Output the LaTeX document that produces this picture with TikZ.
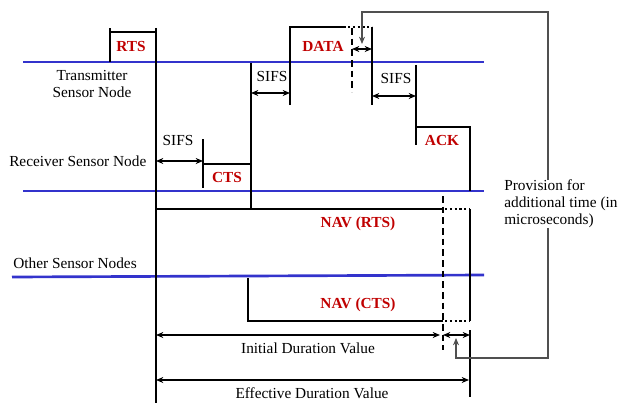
\documentclass[tikz,border=0pt]{standalone}
\usepackage{fontspec}
\setmainfont{Liberation Serif}
\usetikzlibrary{arrows.meta}
\definecolor{lineblue}{RGB}{51,51,204}
\definecolor{labred}{RGB}{192,0,0}
\definecolor{conngray}{RGB}{80,80,80}
\begin{document}
\begin{tikzpicture}[x=0.75pt,y=-0.75pt,
  sig/.style={line width=1.8pt, black},
  nodeline/.style={line width=2pt, lineblue},
  dim/.style={line width=0.9pt, {Stealth[length=5.5pt,width=4.5pt]}-{Stealth[length=5.5pt,width=4.5pt]}},
  lbl/.style={font=\fontsize{11.5}{12.75}\selectfont, inner sep=0pt},
  redlbl/.style={inner sep=0pt, text=labred, font=\fontsize{11.5}{12.75}\selectfont\bfseries},
  callout/.style={line width=0.8pt, conngray, -{Stealth[length=5.5pt,width=4.5pt]}},
  dotseg/.style={line width=1.8pt, dash pattern=on 1.6pt off 2pt},
  dashseg/.style={line width=1.2pt, dash pattern=on 5pt off 3pt}]
\useasboundingbox (0,0) rectangle (620,403);

% node time lines
\draw[nodeline] (23,62) -- (484,62);
\draw[nodeline] (23,191) -- (484,191);
\draw[nodeline] (12,277) -- (484,275);

% RTS
\draw[sig] (110,62) -- (110,28);
\draw[sig] (110,32) -- (156,32);
\draw[sig] (156,28) -- (156,403);

% CTS
\draw[sig] (203,139) -- (203,188);
\draw[sig] (203,164) -- (251,164);
\draw[sig] (251,63) -- (251,209);

% DATA
\draw[sig] (290,105) -- (290,27) -- (346,27);
\draw[dotseg] (348,27) -- (372,27);
\draw[sig] (372,27) -- (372,105);
\draw[dashseg] (352,28) -- (352,92);

% ACK
\draw[sig] (416,65) -- (416,145);
\draw[sig] (416,127) -- (470,127) -- (470,191);

% NAV (RTS)
\draw[sig] (156,209) -- (443,209);
\draw[dotseg] (445,209) -- (470,209);
\draw[sig] (470,209) -- (470,321);

% NAV (CTS)
\draw[sig] (248,278) -- (248,321) -- (443,321);
\draw[dotseg] (445,321) -- (470,321);

% additional time marker
\draw[dashseg] (443,196) -- (443,350);
\draw[sig] (470,330) -- (470,397);

% SIFS and duration arrows
\draw[dim] (156,161) -- (203,161);
\draw[dim] (251,93) -- (290,93);
\draw[dim] (372,96) -- (416,96);
\draw[dim] (352,49) -- (372,49);
\draw[dim] (156,335) -- (440,335);
\draw[dim] (443,335) -- (470,335);
\draw[dim] (156,380) -- (469,380);

% labels
\node[redlbl] (rts) at (131,46) {RTS};
\node[redlbl] (cts) at (227,177) {CTS};
\node[redlbl] (data) at (323,46) {DATA};
\node[redlbl] (ack) at (442,140) {ACK};
\node[redlbl] (navrts) at (358,224) {NAV (RTS)};
\node[redlbl] (navcts) at (358,305) {NAV (CTS)};

\node[lbl] (sifs1) at (178,140) {SIFS};
\node[lbl] (sifs2) at (272,76) {SIFS};
\node[lbl] (sifs3) at (396,78) {SIFS};

\node[lbl, align=center] (tx) at (92,83.5) {Transmitter\\Sensor Node};
\node[lbl, anchor=west] (rx) at (9,161) {Receiver Sensor Node};
\node[lbl, anchor=west] (other) at (13,263) {Other Sensor Nodes};
\node[lbl] (init) at (308,348) {Initial Duration Value};
\node[lbl] (eff) at (312,393) {Effective Duration Value};
\node[lbl, align=left, anchor=west] (prov) at (504,203.5) {Provision for\\additional time (in\\microseconds)};

% callouts
\coordinate (c1) at (548,180);
\coordinate (c2) at (548,228);
\coordinate (t1) at (362,44);
\coordinate (t2) at (456,338);
\draw[callout] (c1) |- (548,12) -| (t1);
\draw[callout] (c2) |- (456,358) -- (t2);
\end{tikzpicture}
\end{document}
